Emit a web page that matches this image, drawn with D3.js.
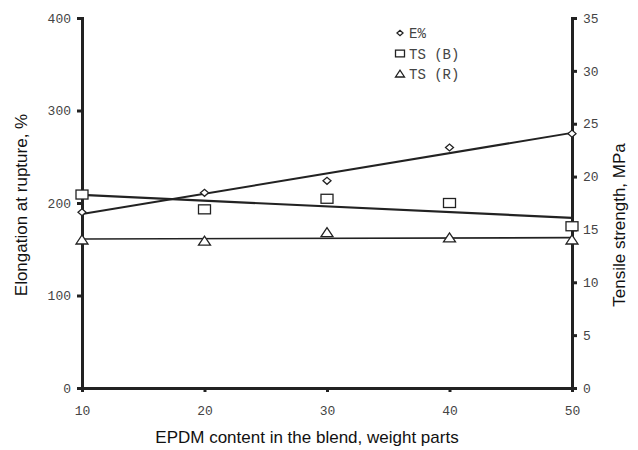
<!DOCTYPE html>
<html><head><meta charset="utf-8">
<script src="https://cdn.jsdelivr.net/npm/d3@7"></script>
<style>body{margin:0;background:#fff}svg{display:block}</style>
</head><body><svg id="c" width="638" height="450"></svg>
<script>
const epdm = [10, 20, 30, 40, 50];
const elongation = [190, 211, 224, 260, 275];      // E%, left axis
const tsB = [18.3, 16.9, 17.9, 17.5, 15.3];        // TS (B), MPa, right axis
const tsR = [14.0, 13.9, 14.7, 14.2, 14.0];        // TS (R), MPa, right axis
const xTicks = [10, 20, 30, 40, 50];
const leftTicks = [0, 100, 200, 300, 400];
const rightTicks = [0, 5, 10, 15, 20, 25, 30, 35];
const legendLabels = ["E%", "TS (B)", "TS (R)"];

const svg = d3.select("#c");
const x = d3.scaleLinear().domain([10, 50]).range([82, 572]);
const yL = d3.scaleLinear().domain([0, 400]).range([388, 18]);
const yR = d3.scaleLinear().domain([0, 35]).range([388, 18]);
const ink = "#222", txt = "#444";
const tickFont = "'Liberation Mono', 'Courier New', monospace";

function fit(xs, ys) {
  const mx = d3.mean(xs), my = d3.mean(ys);
  const b = d3.sum(xs, (v, i) => (v - mx) * (ys[i] - my)) / d3.sum(xs, v => (v - mx) ** 2);
  return v => my + b * (v - mx);
}

// axes
const gL = svg.append("g").attr("transform", "translate(82,0)")
  .call(d3.axisLeft(yL).tickValues(leftTicks).tickSize(5).tickPadding(6));
const gR = svg.append("g").attr("transform", "translate(572,0)")
  .call(d3.axisRight(yR).tickValues(rightTicks).tickSize(5).tickPadding(6));
const gB = svg.append("g").attr("transform", "translate(0,388)")
  .call(d3.axisBottom(x).tickValues(xTicks).tickSize(4).tickPadding(14));
[gL, gR, gB].forEach(g => {
  g.select(".domain").attr("stroke", ink).attr("stroke-width", 3);
  g.selectAll(".tick line").attr("stroke", ink).attr("stroke-width", 3);
  g.selectAll(".tick text").attr("fill", txt).attr("font-family", tickFont).attr("font-size", 13);
});

// trend lines
const series = [
  {vals: elongation, y: yL, sym: "diamond", w: 2},
  {vals: tsB, y: yR, sym: "square", w: 2.2},
  {vals: tsR, y: yR, sym: "triangle", w: 1.6}
];
series.forEach(s => {
  const f = fit(epdm, s.vals);
  svg.append("line")
    .attr("x1", x(10)).attr("y1", s.y(f(10)))
    .attr("x2", x(50)).attr("y2", s.y(f(50)))
    .attr("stroke", ink).attr("stroke-width", s.w);
});

function marker(g, sym, cx, cy, k) {
  k = k || 1;
  if (sym === "square") {
    g.append("rect").attr("x", cx - 6 * k).attr("y", cy - 4.5 * k).attr("width", 12 * k).attr("height", 9 * k)
      .attr("fill", "#fff").attr("stroke", ink).attr("stroke-width", 1.3);
  } else if (sym === "diamond") {
    g.append("path").attr("d", `M${cx-4*k},${cy}L${cx},${cy-3.5*k}L${cx+4*k},${cy}L${cx},${cy+3.5*k}Z`)
      .attr("fill", "#fff").attr("stroke", ink).attr("stroke-width", 1.3);
  } else {
    g.append("path").attr("d", `M${cx-6*k},${cy+4*k}L${cx},${cy-5*k}L${cx+6*k},${cy+4*k}Z`)
      .attr("fill", "#fff").attr("stroke", ink).attr("stroke-width", 1.3);
  }
}
series.forEach(s => {
  const g = svg.append("g");
  s.vals.forEach((v, i) => marker(g, s.sym, x(epdm[i]), s.y(v)));
});

// legend
const lg = svg.append("g");
legendLabels.forEach((lab, i) => {
  const cy = 33 + i * 20.5;
  marker(lg, series[i].sym, 400, cy, 0.75);
  lg.append("text").attr("x", 409).attr("y", cy + 5).text(lab)
    .attr("font-family", tickFont).attr("font-size", 14).attr("fill", txt);
});

// axis titles
const titleFont = "'Liberation Sans', Arial, sans-serif";
svg.append("text").attr("transform", "translate(27,205) rotate(-90)")
  .attr("text-anchor", "middle").attr("font-family", titleFont).attr("font-size", 17)
  .attr("fill", "#111").text("Elongation at rupture, %");
svg.append("text").attr("transform", "translate(625,225) rotate(-90)")
  .attr("text-anchor", "middle").attr("font-family", titleFont).attr("font-size", 17)
  .attr("fill", "#111").text("Tensile strength, MPa");
svg.append("text").attr("x", 307).attr("y", 443)
  .attr("text-anchor", "middle").attr("font-family", titleFont).attr("font-size", 17)
  .attr("fill", "#111").text("EPDM content in the blend, weight parts");
</script></body></html>
